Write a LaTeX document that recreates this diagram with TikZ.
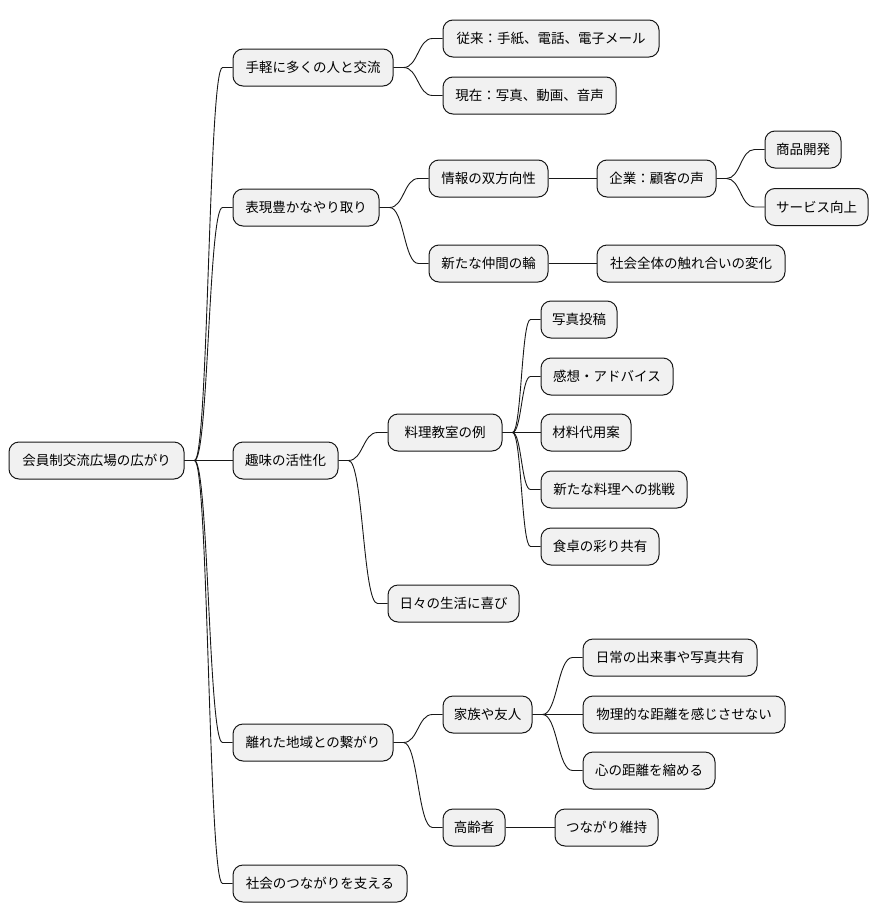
\documentclass[tikz,border=0pt]{standalone}
\usepackage{fontspec}
\setmainfont{Noto Sans CJK JP}
\usetikzlibrary{calc}
\definecolor{nodefill}{HTML}{F1F1F1}
\definecolor{linec}{HTML}{181818}
\tikzset{
  mm/.style={draw=linec, fill=nodefill, rounded corners=10pt, line width=1pt,
    minimum height=37pt, inner sep=0pt, align=center,
    font=\fontsize{13.5pt}{16pt}\selectfont, text=black},
  cn/.style={draw=linec, line width=0.9pt},
}
% \mm{name}{x1}{x2}{yc}{text}
\newcommand\mmnode[5]{\node[mm, minimum width=#3pt-#2pt] (#1) at ({(#2+#3)/2*1pt},{-#4*1pt}) {#5};}
\newcommand\mmconn[2]{%
  \path ($(#1.east)!.5!(#2.west)$) coordinate (m-#1-#2);
  \draw[cn] (#1.east) -- ++(10pt,0) .. controls (m-#1-#2 |- #1.east) and (m-#1-#2 |- #2.west) .. ($(#2.west)+(-10pt,0)$) -- (#2.west);}
\begin{document}
\begin{tikzpicture}[x=1pt,y=1pt]
\useasboundingbox (0,0) rectangle (880,-921);
\fill[white] (0,0) rectangle (880,-921);
\mmnode{root}{9}{184}{460.5}{会員制交流広場の広がり}
\mmnode{a}{233}{393}{67.5}{手軽に多くの人と交流}
\mmnode{a1}{443}{659}{38.5}{従来：手紙、電話、電子メール}
\mmnode{a2}{443}{616}{95.5}{現在：写真、動画、音声}
\mmnode{b}{233}{379}{207.5}{表現豊かなやり取り}
\mmnode{b1}{429}{548}{178.5}{情報の双方向性}
\mmnode{b11}{597}{716}{178.5}{企業：顧客の声}
\mmnode{b111}{765}{841}{149.5}{商品開発}
\mmnode{b112}{765}{868}{207}{サービス向上}
\mmnode{b2}{429}{548}{263.5}{新たな仲間の輪}
\mmnode{b21}{597}{785}{263.5}{社会全体の触れ合いの変化}
\mmnode{c}{233}{338}{460.5}{趣味の活性化}
\mmnode{c1}{388}{502}{432.5}{料理教室の例}
\mmnode{c11}{541}{617}{319.5}{写真投稿}
\mmnode{c12}{541}{673}{376.5}{感想・アドバイス}
\mmnode{c13}{541}{631}{432.5}{材料代用案}
\mmnode{c14}{541}{687}{489.5}{新たな料理への挑戦}
\mmnode{c15}{541}{659}{546.5}{食卓の彩り共有}
\mmnode{c2}{388}{519}{603.5}{日々の生活に喜び}
\mmnode{d}{233}{393}{742.5}{離れた地域との繋がり}
\mmnode{d1}{443}{532}{714.5}{家族や友人}
\mmnode{d11}{583}{757}{657.5}{日常の出来事や写真共有}
\mmnode{d12}{583}{785}{714.5}{物理的な距離を感じさせない}
\mmnode{d13}{583}{715}{770.5}{心の距離を縮める}
\mmnode{d2}{443}{505}{827.5}{高齢者}
\mmnode{d21}{555}{658}{827.5}{つながり維持}
\mmnode{e}{233}{407}{883.5}{社会のつながりを支える}
\mmconn{root}{a}
\mmconn{root}{b}
\mmconn{root}{c}
\mmconn{root}{d}
\mmconn{root}{e}
\mmconn{a}{a1}
\mmconn{a}{a2}
\mmconn{b}{b1}
\mmconn{b}{b2}
\mmconn{b1}{b11}
\mmconn{b11}{b111}
\mmconn{b11}{b112}
\mmconn{b2}{b21}
\mmconn{c}{c1}
\mmconn{c}{c2}
\mmconn{c1}{c11}
\mmconn{c1}{c12}
\mmconn{c1}{c13}
\mmconn{c1}{c14}
\mmconn{c1}{c15}
\mmconn{d}{d1}
\mmconn{d}{d2}
\mmconn{d1}{d11}
\mmconn{d1}{d12}
\mmconn{d1}{d13}
\mmconn{d2}{d21}
\end{tikzpicture}
\end{document}
